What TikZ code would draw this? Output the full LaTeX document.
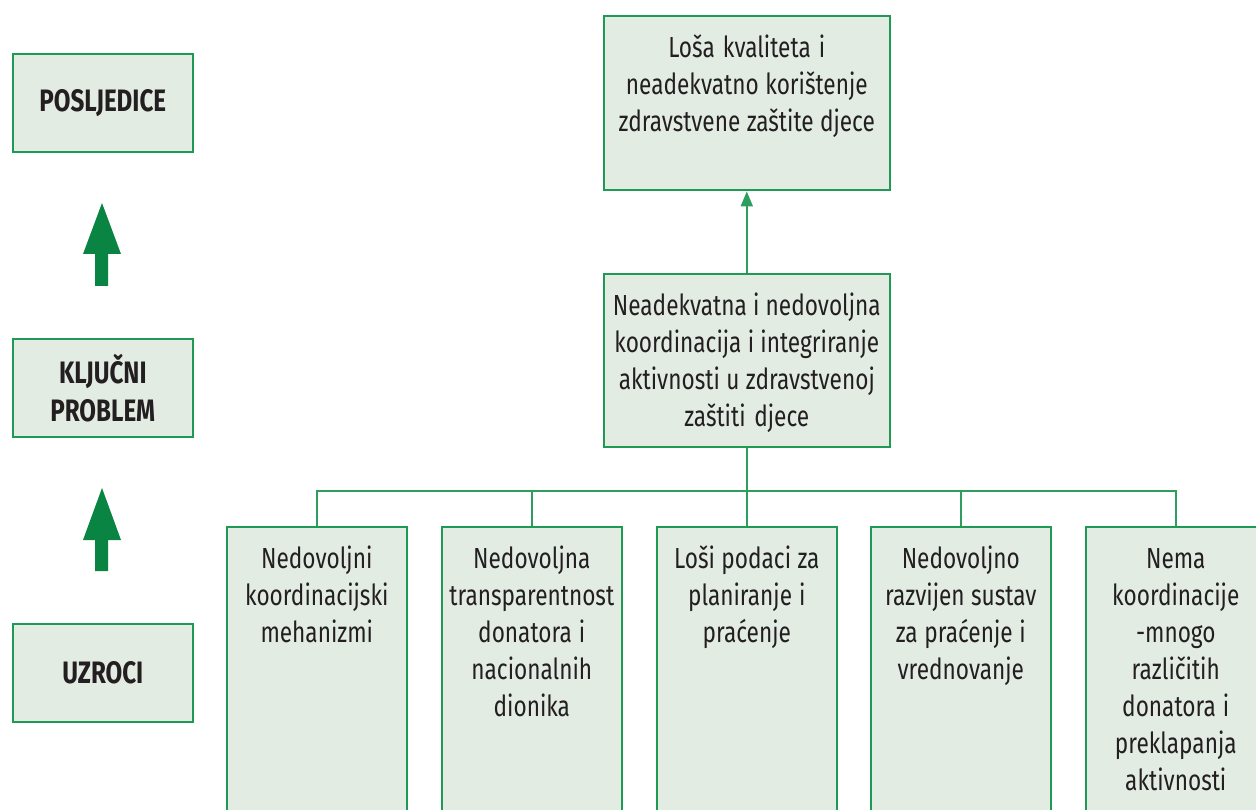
\documentclass[tikz,border=0pt]{standalone}
\usepackage{fontspec}
\setmainfont[FakeStretch=0.78]{Fira Sans}
\usetikzlibrary{arrows.meta}

\definecolor{boxfill}{HTML}{E2ECE3}
\definecolor{boxline}{HTML}{1F9A55}
\definecolor{linkgreen}{HTML}{2E9E5F}
\definecolor{arrowgreen}{HTML}{0A8443}
\definecolor{inkgray}{HTML}{231F20}

% narrower word gaps for the condensed body text
\newcommand\narrowgaps{\spaceskip=6pt plus 2pt minus 1pt\relax}

\tikzset{
  box/.style={draw=boxline, fill=boxfill, line width=1.6pt, rectangle,
    inner sep=0pt, anchor=north west},
  sidebox/.style={box, minimum width=180pt, minimum height=98pt,
    align=center, text=inkgray, font=\fontsize{31}{38}\selectfont\bfseries},
  txt/.style={anchor=north, inner sep=0pt, align=center, text=inkgray,
    text width=#1, font=\fontsize{29}{37}\selectfont,
    execute at begin node={\narrowgaps\strut}},
  txt/.default=176pt,
  link/.style={draw=linkgreen, line width=1.8pt},
  bigarrow/.style={fill=arrowgreen, draw=none}
}

\begin{document}
\begin{tikzpicture}[x=1pt, y=-1pt]
  \useasboundingbox (0,0) rectangle (1256,810);
  \clip (0,0) rectangle (1256,810);

  % level labels on the left
  \node[sidebox] (posljedice) at (12,53) {POSLJEDICE};
  \node[sidebox] (problem) at (12,338) {KLJUČNI\\PROBLEM};
  \node[sidebox] (uzroci) at (12,623) {UZROCI};

  % upward arrows between the levels
  \fill[bigarrow] (102,203) -- (121,254) -- (108,254) -- (108,286)
    -- (95,286) -- (95,254) -- (83,254) -- cycle;
  \fill[bigarrow] (102,488) -- (121,540) -- (108,540) -- (108,571)
    -- (95,571) -- (95,540) -- (83,540) -- cycle;

  % consequence
  \node[box, minimum width=286pt, minimum height=174pt] (eff) at (603,15) {};
  \node[txt=280pt] (efft) at ([yshift=-16pt]eff.north)
    {Loša kvaliteta i\\neadekvatno korištenje\\zdravstvene zaštite djece};

  % key problem
  \node[box, minimum width=286pt, minimum height=173pt] (mid) at (603,273) {};
  \node[txt=280pt] (midt) at ([yshift=-16pt]mid.north)
    {Neadekvatna i nedovoljna\\koordinacija i integriranje\\aktivnosti u zdravstvenoj\\zaštiti djece};

  % causes
  \node[box, minimum width=180pt, minimum height=320pt] (c1) at (226,526) {};
  \node[box, minimum width=180pt, minimum height=320pt] (c2) at (441,526) {};
  \node[box, minimum width=180pt, minimum height=320pt] (c3) at (656,526) {};
  \node[box, minimum width=180pt, minimum height=320pt] (c4) at (870,526) {};
  \node[box, minimum width=180pt, minimum height=320pt] (c5) at (1085,526) {};

  \node[txt] (c1t) at ([yshift=-16pt]c1.north)
    {Nedovoljni\\koordinacijski\\mehanizmi};
  \node[txt] (c2t) at ([yshift=-16pt]c2.north)
    {Nedovoljna\\transparentnost\\donatora i\\nacionalnih\\dionika};
  \node[txt] (c3t) at ([yshift=-16pt]c3.north)
    {Loši podaci za\\planiranje i\\praćenje};
  \node[txt] (c4t) at ([yshift=-16pt]c4.north)
    {Nedovoljno\\razvijen sustav\\za praćenje i\\vrednovanje};
  \node[txt] (c5t) at ([yshift=-16pt]c5.north)
    {Nema\\koordinacije\\-mnogo\\različitih\\donatora i\\preklapanja\\aktivnosti};

  % connectors
  \draw[link, -{Triangle[width=12pt,length=15pt]}, shorten >=0.8pt]
    (mid.north) -- (eff.south);
  \coordinate (bus) at ([yshift=-43pt]mid.south);
  \foreach \c in {c1,c2,c3,c4,c5}
    \draw[link] (mid.south) -- (bus) -| (\c.north);
\end{tikzpicture}
\end{document}
